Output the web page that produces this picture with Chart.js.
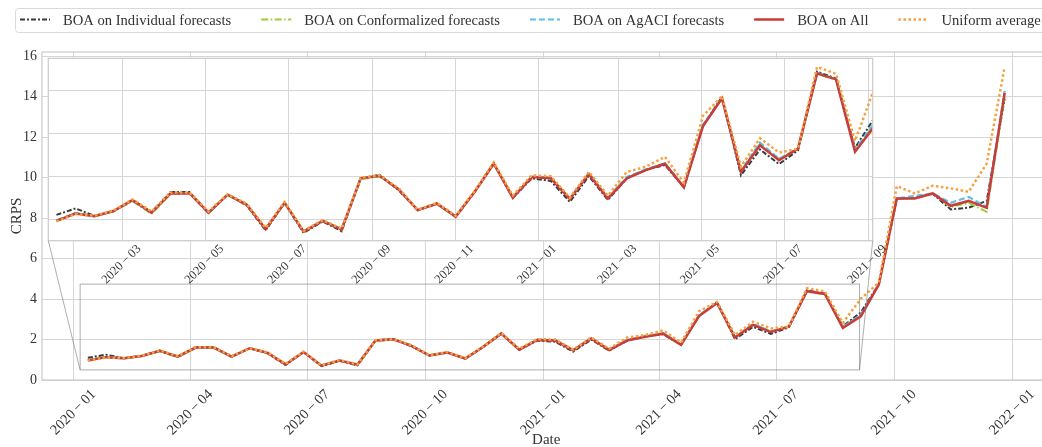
<!DOCTYPE html>
<html>
<head>
<meta charset="utf-8">
<script src="https://cdn.jsdelivr.net/npm/chart.js@4.4.0/dist/chart.umd.min.js"></script>
<style>
  html, body { margin: 0; padding: 0; background: #fff; overflow: hidden; }
  #wrap { position: relative; width: 1070px; height: 447px; }
  .layer { position: absolute; left: 0; top: 0; width: 1070px; height: 447px; }
</style>
</head>
<body>
<div id="wrap">
  <div class="layer"><canvas id="main"></canvas></div>
  <div class="layer"><canvas id="inset"></canvas></div>
</div>
<script>
// bi-weekly evaluation dates
const dates = [
  '2020-01-12', '2020-01-26', '2020-02-09', '2020-02-23', '2020-03-08', '2020-03-22',
  '2020-04-05', '2020-04-19', '2020-05-03', '2020-05-17', '2020-05-31', '2020-06-14',
  '2020-06-28', '2020-07-12', '2020-07-26', '2020-08-09', '2020-08-23', '2020-09-06',
  '2020-09-20', '2020-10-04', '2020-10-18', '2020-11-01', '2020-11-15', '2020-11-29',
  '2020-12-13', '2020-12-27', '2021-01-10', '2021-01-24', '2021-02-07', '2021-02-21',
  '2021-03-07', '2021-03-21', '2021-04-04', '2021-04-18', '2021-05-02', '2021-05-16',
  '2021-05-30', '2021-06-13', '2021-06-27', '2021-07-11', '2021-07-25', '2021-08-08',
  '2021-08-22', '2021-09-05', '2021-09-19', '2021-10-03', '2021-10-17', '2021-10-31',
  '2021-11-14', '2021-11-28', '2021-12-12', '2021-12-26'
];

const boaIndividual = [
  1.10, 1.25, 1.08, 1.19, 1.45, 1.16, 1.63, 1.63, 1.15, 1.57,
  1.32, 0.74, 1.38, 0.68, 0.95, 0.72, 1.95, 2.03, 1.67, 1.21,
  1.37, 1.05, 1.64, 2.31, 1.49, 1.95, 1.89, 1.40, 2.00, 1.45,
  1.95, 2.15, 2.26, 1.74, 3.18, 3.84, 2.02, 2.62, 2.28, 2.60,
  4.43, 4.27, 2.66, 3.34, 4.75, 8.97, 9.00, 9.20, 8.43, 8.52,
  8.85, 13.90
];
const boaConformalized = [
  0.97, 1.14, 1.07, 1.18, 1.42, 1.12, 1.59, 1.60, 1.16, 1.56,
  1.33, 0.78, 1.38, 0.72, 0.96, 0.77, 1.93, 1.99, 1.69, 1.22,
  1.36, 1.07, 1.65, 2.28, 1.51, 1.99, 1.96, 1.48, 2.06, 1.50,
  1.96, 2.15, 2.30, 1.75, 3.18, 3.80, 2.12, 2.75, 2.40, 2.64,
  4.38, 4.24, 2.60, 3.20, 4.72, 8.95, 9.00, 9.22, 8.55, 8.75,
  8.31, 14.00
];
const boaAgaci = [
  0.97, 1.14, 1.07, 1.19, 1.44, 1.15, 1.60, 1.61, 1.14, 1.57,
  1.34, 0.78, 1.38, 0.72, 0.97, 0.77, 1.95, 2.01, 1.70, 1.21,
  1.36, 1.06, 1.64, 2.29, 1.51, 1.99, 1.96, 1.48, 2.07, 1.50,
  1.98, 2.16, 2.30, 1.75, 3.20, 3.81, 2.12, 2.78, 2.40, 2.64,
  4.40, 4.26, 2.62, 3.22, 4.74, 8.97, 9.10, 9.22, 8.76, 9.05,
  8.55, 14.29
];
const boaAll = [
  0.96, 1.13, 1.07, 1.19, 1.44, 1.15, 1.60, 1.60, 1.15, 1.57,
  1.34, 0.77, 1.38, 0.71, 0.96, 0.76, 1.95, 2.01, 1.69, 1.21,
  1.36, 1.06, 1.64, 2.29, 1.50, 1.98, 1.95, 1.47, 2.05, 1.48,
  1.95, 2.14, 2.29, 1.74, 3.16, 3.81, 2.10, 2.72, 2.37, 2.64,
  4.39, 4.25, 2.57, 3.15, 4.72, 8.97, 8.97, 9.22, 8.61, 8.85,
  8.51, 14.19
];
const uniformAverage = [
  0.95, 1.12, 1.08, 1.20, 1.46, 1.18, 1.62, 1.62, 1.18, 1.58,
  1.36, 0.80, 1.40, 0.73, 0.98, 0.78, 1.96, 2.02, 1.72, 1.22,
  1.38, 1.08, 1.66, 2.32, 1.55, 2.02, 2.00, 1.50, 2.10, 1.55,
  2.10, 2.22, 2.45, 1.85, 3.40, 3.86, 2.22, 2.88, 2.55, 2.64,
  4.54, 4.38, 2.82, 4.02, 4.82, 9.58, 9.22, 9.60, 9.47, 9.30,
  10.70, 15.47
];

const mainTicks = ['2020-01', '2020-04', '2020-07', '2020-10', '2021-01', '2021-04', '2021-07', '2021-10', '2022-01'];
const insetTicks = ['2020-03', '2020-05', '2020-07', '2020-09', '2020-11', '2021-01', '2021-03', '2021-05', '2021-07', '2021-09'];
const insetXRange = ['2020-01-06', '2021-09-04'];
const insetYRange = [0.5, 4.74];

const FONT = '"Liberation Serif", "Times New Roman", serif';
const TEXT = '#333333';
const GRID = '#d6d6d6';
const EDGE = '#cccccc';
const W = 1070, H = 447;

const series = [
  { label: 'BOA on Individual forecasts', data: boaIndividual, color: '#363b3b', dash: [5, 2, 2, 2], width: 2 },
  { label: 'BOA on Conformalized forecasts', data: boaConformalized, color: '#9acd32', dash: [7, 2.5, 1.5, 2.5], width: 2 },
  { label: 'BOA on AgACI forecasts', data: boaAgaci, color: '#5bbfe8', dash: [6, 3], width: 2.2 },
  { label: 'BOA on All', data: boaAll, color: '#c93c3c', dash: [], width: 2.5 },
  { label: 'Uniform average', data: uniformAverage, color: '#f5a23e', dash: [2.5, 2.5], width: 2.5 }
];

const t = s => Date.parse(s.length === 7 ? s + '-01' : s);
const fmtMonth = v => {
  const d = new Date(v);
  return d.getUTCFullYear() + '\u2009\u2212\u2009' + String(d.getUTCMonth() + 1).padStart(2, '0');
};

function makeDatasets() {
  return series.map((s, i) => ({
    label: s.label,
    data: dates.map((d, j) => ({ x: t(d), y: s.data[j] })),
    borderColor: s.color,
    borderDash: s.dash,
    borderWidth: s.width,
    pointRadius: 0,
    tension: 0,
    fill: false,
    order: series.length - i
  }));
}

// matplotlib-like 5% margins
const first = t(dates[0]), last = t(dates[dates.length - 1]);
const xPad = 0.05 * (last - first);
const allVals = series.flatMap(s => s.data);
const yMax = Math.max(...allVals) + 0.05 * (Math.max(...allVals) - Math.min(...allVals));

const framePlugin = {
  id: 'frame',
  beforeDraw(chart, args, opts) {
    if (!opts.fill) return;
    const a = chart.chartArea;
    chart.ctx.save();
    chart.ctx.fillStyle = opts.fill;
    chart.ctx.fillRect(a.left, a.top, a.right - a.left, a.bottom - a.top);
    chart.ctx.restore();
  },
  afterDraw(chart) {
    const a = chart.chartArea, ctx = chart.ctx;
    ctx.save();
    ctx.strokeStyle = EDGE;
    ctx.lineWidth = 1.25;
    ctx.strokeRect(a.left, a.top, a.right - a.left, a.bottom - a.top);
    ctx.restore();
  }
};

const boxLegend = {
  id: 'boxLegend',
  afterDraw(chart) {
    const ctx = chart.ctx;
    ctx.save();
    ctx.font = '14.6px ' + FONT;
    const items = chart.data.datasets;
    let total = 5;
    items.forEach(ds => { total += 43 + ctx.measureText(ds.label).width + 30; });
    ctx.strokeStyle = '#d9d9d9';
    ctx.lineWidth = 1;
    ctx.beginPath();
    ctx.roundRect(15.5, 8.5, total, 24, 3);
    ctx.stroke();
    let x = 20;
    const y = 19.5;
    items.forEach(ds => {
      ctx.strokeStyle = ds.borderColor;
      ctx.lineWidth = ds.borderWidth;
      ctx.setLineDash(ds.borderDash || []);
      ctx.beginPath();
      ctx.moveTo(x, y);
      ctx.lineTo(x + 30, y);
      ctx.stroke();
      ctx.setLineDash([]);
      ctx.fillStyle = TEXT;
      ctx.textBaseline = 'alphabetic';
      ctx.fillText(ds.label, x + 43, 25);
      x += 43 + ctx.measureText(ds.label).width + 30;
    });
    ctx.restore();
  }
};

const mainChart = new Chart(document.getElementById('main'), {
  type: 'line',
  data: { datasets: makeDatasets() },
  plugins: [framePlugin, boxLegend],
  options: {
    responsive: true,
    maintainAspectRatio: false,
    animation: false,
    layout: { padding: { left: 0, top: 52, right: 19.5, bottom: 0 } },
    plugins: { legend: { display: false }, tooltip: { enabled: false }, frame: {} },
    scales: {
      x: {
        type: 'linear',
        min: first - xPad,
        max: last + xPad,
        afterBuildTicks: s => { s.ticks = mainTicks.map(m => ({ value: t(m) })); },
        afterFit: s => { s.height = 67; },
        grid: { color: GRID, lineWidth: 1, drawTicks: false },
        border: { display: false },
        ticks: {
          autoSkip: false, minRotation: 45, maxRotation: 45,
          padding: 6, labelOffset: 20,
          color: TEXT, font: { family: FONT, size: 14.5 },
          callback: v => fmtMonth(v)
        },
        title: { display: true, text: 'Date', color: TEXT, font: { family: FONT, size: 15 }, padding: { top: 0, bottom: -2 } }
      },
      y: {
        min: 0,
        max: yMax,
        afterFit: s => { s.width = 42; },
        grid: { color: GRID, lineWidth: 1, drawTicks: false },
        border: { display: false },
        ticks: { stepSize: 2, includeBounds: false, padding: 5, color: TEXT, font: { family: FONT, size: 14 } },
        title: { display: true, text: 'CRPS', color: TEXT, font: { family: FONT, size: 15 }, padding: { top: 8, bottom: 0 } }
      }
    }
  }
});

const zoomMarks = {
  id: 'zoomMarks',
  afterDraw(chart) {
    const m = mainChart.scales;
    const x0 = m.x.getPixelForValue(t(insetXRange[0]));
    const x1 = m.x.getPixelForValue(t(insetXRange[1]));
    const y0 = m.y.getPixelForValue(insetYRange[1]);
    const y1 = m.y.getPixelForValue(insetYRange[0]);
    const a = chart.chartArea, ctx = chart.ctx;
    ctx.save();
    ctx.strokeStyle = 'rgba(120,120,120,0.6)';
    ctx.lineWidth = 1;
    ctx.strokeRect(x0, y0, x1 - x0, y1 - y0);
    ctx.beginPath();
    ctx.moveTo(x0, y1); ctx.lineTo(a.left, a.bottom);
    ctx.moveTo(x1, y1); ctx.lineTo(a.right, a.bottom);
    ctx.stroke();
    ctx.restore();
  }
};

const insetBox = { left: 48.3, top: 58.3, right: 872.7, bottom: 240.7 };

new Chart(document.getElementById('inset'), {
  type: 'line',
  data: { datasets: makeDatasets().map(d => ({ ...d, clip: 0 })) },
  plugins: [framePlugin, zoomMarks],
  options: {
    responsive: true,
    maintainAspectRatio: false,
    animation: false,
    layout: { padding: { left: insetBox.left, top: insetBox.top, right: W - insetBox.right, bottom: 0 } },
    plugins: { legend: { display: false }, tooltip: { enabled: false }, frame: { fill: '#ffffff' } },
    scales: {
      x: {
        type: 'linear',
        min: t(insetXRange[0]),
        max: t(insetXRange[1]),
        afterBuildTicks: s => { s.ticks = insetTicks.map(m => ({ value: t(m) })); },
        afterFit: s => { s.height = H - insetBox.bottom; },
        grid: { color: GRID, lineWidth: 1, drawTicks: false },
        border: { display: false },
        ticks: {
          autoSkip: false, minRotation: 45, maxRotation: 45,
          padding: 1, labelOffset: 16,
          color: TEXT, font: { family: FONT, size: 12.5 },
          callback: v => fmtMonth(v)
        }
      },
      y: {
        min: insetYRange[0],
        max: insetYRange[1],
        afterFit: s => { s.width = 0; },
        grid: { color: GRID, lineWidth: 1, drawTicks: false },
        border: { display: false },
        ticks: { display: false, stepSize: 1, includeBounds: false }
      }
    }
  }
});
</script>
</body>
</html>
